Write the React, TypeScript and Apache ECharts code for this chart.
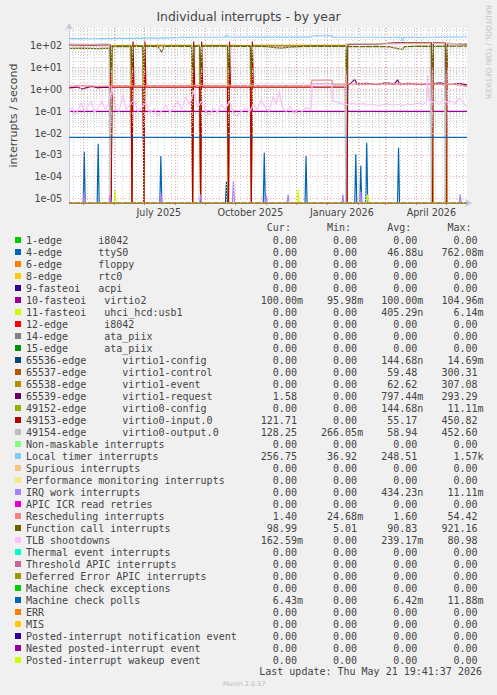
import React, { useEffect, useRef } from 'react';
import * as echarts from 'echarts';

const W = 497;
const H = 695;

const T_START = '2025-04-16 19:41:37';
const T_END = '2026-05-21 19:41:37';
const Y_MIN = 6.2e-6;
const Y_MAX = 665;

const TITLE = 'Individual interrupts - by year';
const Y_NAME = 'interrupts / second';
const LAST_UPDATE = 'Last update: Thu May 21 19:41:37 2026';
const MUNIN_VERSION = 'Munin 2.0.57';
const RRD_CREDIT = 'RRDTOOL / TOBI OETIKER';
const COLUMN_HEADERS = ['Cur:', 'Min:', 'Avg:', 'Max:'];

const X_LABEL_DATES = ['2025-07-16', '2025-10-16', '2026-01-16', '2026-04-16'];
const X_LABEL_TEXTS = ['July 2025', 'October 2025', 'January 2026', 'April 2026'];
const MONTH_STARTS = [
  '2025-05-01', '2025-06-01', '2025-07-01', '2025-08-01', '2025-09-01', '2025-10-01', '2025-11-01',
  '2025-12-01', '2026-01-01', '2026-02-01', '2026-03-01', '2026-04-01', '2026-05-01',
];
const FIRST_WEEK = '2025-04-21';

const NAMES = [
  '1-edge      i8042',
  '4-edge      ttyS0',
  '6-edge      floppy',
  '8-edge      rtc0',
  '9-fasteoi   acpi',
  '10-fasteoi   virtio2',
  '11-fasteoi   uhci_hcd:usb1',
  '12-edge      i8042',
  '14-edge      ata_piix',
  '15-edge      ata_piix',
  '65536-edge      virtio1-config',
  '65537-edge      virtio1-control',
  '65538-edge      virtio1-event',
  '65539-edge      virtio1-request',
  '49152-edge      virtio0-config',
  '49153-edge      virtio0-input.0',
  '49154-edge      virtio0-output.0',
  'Non-maskable interrupts',
  'Local timer interrupts',
  'Spurious interrupts',
  'Performance monitoring interrupts',
  'IRQ work interrupts',
  'APIC ICR read retries',
  'Rescheduling interrupts',
  'Function call interrupts',
  'TLB shootdowns',
  'Thermal event interrupts',
  'Threshold APIC interrupts',
  'Deferred Error APIC interrupts',
  'Machine check exceptions',
  'Machine check polls',
  'ERR',
  'MIS',
  'Posted-interrupt notification event',
  'Nested posted-interrupt event',
  'Posted-interrupt wakeup event',
];

const COLORS = [
  '#00CC00', '#0066B3', '#FF8000', '#FFCC00', '#330099', '#990099', '#CCFF00', '#FF0000', '#808080',
  '#008F00', '#00487D', '#B35A00', '#B38F00', '#6B006B', '#8FB300', '#B30000', '#BEBEBE', '#80FF80',
  '#80C9FF', '#FFC080', '#FFE680', '#AA80FF', '#EE00CC', '#FF8080', '#666600', '#FFBFFF', '#00FFCC',
  '#CC6699', '#999900', '#00CC00', '#0066B3', '#FF8000', '#FFCC00', '#330099', '#990099', '#CCFF00',
];

const CUR = [0, 0, 0, 0, 0, 0.1, 0, 0, 0, 0, 0, 0, 0, 1.58, 0, 121.71, 128.25, 0, 256.75, 0, 0, 0, 0, 1.4, 98.99, 0.16259, 0, 0, 0, 0, 0.00643, 0, 0, 0, 0, 0];
const MIN_V = [0, 0, 0, 0, 0, 0.09598, 0, 0, 0, 0, 0, 0, 0, 0, 0, 0, 0.26605, 0, 36.92, 0, 0, 0, 0, 0.02468, 5.01, 0, 0, 0, 0, 0, 0, 0, 0, 0, 0, 0];
const AVG_V = [0, 46.88e-6, 0, 0, 0, 0.1, 405.29e-9, 0, 0, 0, 144.68e-9, 59.48, 62.62, 0.79744, 144.68e-9, 55.17, 58.94, 0, 248.51, 0, 0, 434.23e-9, 0, 1.6, 90.83, 0.23917, 0, 0, 0, 0, 0.00642, 0, 0, 0, 0, 0];
const MAX_V = [0, 0.76208, 0, 0, 0, 0.10496, 0.00614, 0, 0, 0, 0.01469, 300.31, 307.08, 293.29, 0.01111, 450.82, 452.6, 0, 1570, 0, 0, 0.01111, 0, 54.42, 921.16, 80.98, 0, 0, 0, 0, 0.01188, 0, 0, 0, 0, 0];

// spikes (date, value) on a zero baseline
const TTYS0_SPIKES: [string, number][] = [
  ['2025-05-02', 1.4e-3], ['2025-05-16', 3.2e-3], ['2025-07-18', 8.9e-4], ['2025-10-30', 1.26e-3],
  ['2025-12-11', 8.9e-4], ['2026-01-30', 1.07e-3], ['2026-02-04', 3.2e-4], ['2026-02-10', 3.6e-3],
  ['2026-03-14', 2.1e-3],
];
const USB1_SPIKES: [string, number][] = [['2025-06-02', 2.6e-5], ['2025-12-03', 2.5e-5], ['2026-02-11', 1.5e-5]];
const VIRTIO1_CONFIG_SPIKES: [string, number][] = [['2025-09-22', 6e-5]];
const IRQ_WORK_SPIKES: [string, number][] = [
  ['2025-05-02', 1.8e-5], ['2025-05-28', 1.5e-5], ['2025-07-18', 1.8e-5], ['2025-08-27', 1.5e-5],
  ['2025-09-29', 6.4e-5], ['2025-11-01', 1.4e-5], ['2025-11-23', 1.5e-5], ['2026-01-17', 1.5e-5],
  ['2026-02-04', 2e-5], ['2026-05-15', 1.5e-5],
];

const VIRTIO2: [string, number][] = [[T_START, 0.1], ['2025-09-01', 0.0998], [T_END, 0.1]];
const MACHINE_CHECK_POLLS: [string, number][] = [[T_START, 6.42e-3], [T_END, 6.43e-3]];

const VIRTIO1_CONTROL: [string, number][] = [
  [T_START, 0], ['2025-05-29', 0], ['2025-05-30', 98], ['2025-06-18', 100], ['2025-06-19', 0], ['2025-06-20', 100],
  ['2025-06-30', 100], ['2025-07-01', 0], ['2025-07-02', 100], ['2025-08-18', 100], ['2025-08-19', 0],
  ['2025-08-20', 100], ['2025-08-26', 100], ['2025-08-27', 0], ['2025-08-28', 100], ['2025-09-23', 100],
  ['2025-09-24', 0], ['2025-09-25', 100], ['2025-10-16', 100], ['2025-10-17', 0], ['2025-10-18', 100],
  ['2026-01-20', 100], ['2026-01-21', 0], [T_END, 0],
];
const VIRTIO1_EVENT: [string, number][] = [
  [T_START, 0], ['2025-05-29', 0], ['2025-05-30', 104], ['2025-06-18', 106], ['2025-06-19', 0], ['2025-06-20', 105],
  ['2025-06-30', 104], ['2025-07-01', 0], ['2025-07-02', 106], ['2025-08-18', 105], ['2025-08-19', 0],
  ['2025-08-20', 104], ['2025-08-26', 106], ['2025-08-27', 0], ['2025-08-28', 105], ['2025-09-23', 107],
  ['2025-09-24', 0], ['2025-09-25', 105], ['2025-10-16', 104], ['2025-10-17', 0], ['2025-10-18', 106],
  ['2025-12-01', 105], ['2026-01-20', 106], ['2026-01-21', 0], ['2026-04-16', 0], ['2026-04-17', 110],
  ['2026-04-18', 0], ['2026-04-30', 0], ['2026-05-01', 110], ['2026-05-02', 0], [T_END, 0],
];
const VIRTIO1_REQUEST: [string, number][] = [
  [T_START, 1.2], ['2025-04-25', 1.3], ['2025-04-30', 1.05], ['2025-05-05', 1.25], ['2025-05-10', 1.4],
  ['2025-05-15', 1.2], ['2025-05-22', 1.3], ['2025-05-28', 1.25], ['2025-05-29', 0], ['2026-01-21', 0],
  ['2026-01-22', 1.7], ['2026-01-25', 1.9], ['2026-01-29', 3.0], ['2026-01-31', 1.8], ['2026-02-10', 1.9],
  ['2026-02-20', 1.7], ['2026-03-01', 2.0], ['2026-03-10', 1.8], ['2026-03-13', 2.8], ['2026-03-15', 1.8],
  ['2026-03-25', 1.9], ['2026-04-05', 1.7], ['2026-04-16', 1.8], ['2026-04-25', 2.0], ['2026-05-05', 1.7],
  ['2026-05-15', 1.9], [T_END, 1.58],
];
const VIRTIO0_INPUT: [string, number][] = [
  [T_START, 112], ['2025-05-10', 110], ['2025-05-28', 115], ['2025-05-29', 0], ['2025-05-30', 1.3],
  ['2025-06-18', 1.3], ['2025-06-19', 0], ['2025-06-20', 160], ['2025-06-21', 1.3],
  ['2025-06-30', 1.3], ['2025-07-01', 0], ['2025-07-02', 160], ['2025-07-03', 1.3],
  ['2025-08-18', 1.3], ['2025-08-19', 0], ['2025-08-20', 160], ['2025-08-21', 1.3],
  ['2025-08-26', 1.3], ['2025-08-27', 0], ['2025-08-28', 160], ['2025-08-29', 1.3],
  ['2025-09-23', 1.3], ['2025-09-24', 0], ['2025-09-25', 160], ['2025-09-26', 1.3],
  ['2025-10-16', 1.3], ['2025-10-17', 0], ['2025-10-18', 160], ['2025-10-19', 1.3],
  ['2026-01-20', 1.3], ['2026-01-21', 0], ['2026-01-22', 118], ['2026-02-20', 120], ['2026-03-10', 138],
  ['2026-04-16', 140], ['2026-04-17', 0], ['2026-04-18', 140], ['2026-04-30', 135], ['2026-05-01', 0],
  ['2026-05-02', 130], [T_END, 121.71],
];
const VIRTIO0_OUTPUT: [string, number][] = [
  [T_START, 122], ['2025-05-10', 118], ['2025-05-27', 125], ['2025-05-28', 0], ['2025-05-29', 1.5],
  ['2025-07-10', 1.5], ['2025-09-01', 1.55], ['2025-12-16', 1.55], ['2025-12-17', 1.85], ['2026-01-06', 1.85],
  ['2026-01-07', 1.6], ['2026-01-19', 1.6], ['2026-01-20', 0], ['2026-01-21', 126], ['2026-03-01', 124],
  ['2026-04-15', 130], ['2026-04-16', 0], ['2026-04-17', 130], ['2026-04-29', 128], ['2026-04-30', 0],
  ['2026-05-01', 128], [T_END, 128.25],
];
const LOCAL_TIMER: [string, number][] = [
  [T_START, 215], ['2025-04-28', 218], ['2025-05-10', 214], ['2025-05-22', 218], ['2025-06-05', 220],
  ['2025-06-20', 223], ['2025-07-05', 226], ['2025-07-20', 230], ['2025-08-01', 238], ['2025-08-10', 247],
  ['2025-09-01', 250], ['2025-09-20', 250], ['2025-09-22', 315], ['2025-09-24', 250], ['2025-10-20', 251],
  ['2025-11-20', 252], ['2025-12-16', 252], ['2025-12-17', 290], ['2026-01-06', 290], ['2026-01-07', 252],
  ['2026-02-15', 250], ['2026-03-17', 248], ['2026-03-18', 158], ['2026-03-19', 248], ['2026-04-20', 252],
  [T_END, 256.75],
];
const RESCHEDULING: [string, number][] = [
  [T_START, 1.45], ['2025-05-01', 1.5], ['2025-05-15', 1.4], ['2025-06-10', 1.5], ['2025-07-15', 1.5],
  ['2025-09-01', 1.5], ['2025-10-15', 1.45], ['2025-11-20', 1.45], ['2025-12-16', 1.45], ['2025-12-17', 2.7],
  ['2026-01-06', 2.7], ['2026-01-07', 1.8], ['2026-02-15', 1.75], ['2026-03-15', 1.8], ['2026-04-15', 1.75],
  ['2026-05-10', 1.7], [T_END, 1.4],
];
const FUNCTION_CALL: [string, number][] = [
  [T_START, 78], ['2025-05-01', 80], ['2025-05-15', 76], ['2025-05-28', 79], ['2025-05-29', 5], ['2025-05-30', 92],
  ['2025-06-10', 95], ['2025-06-18', 93], ['2025-06-19', 5], ['2025-06-20', 95], ['2025-06-30', 96],
  ['2025-07-01', 5], ['2025-07-02', 97], ['2025-07-15', 95], ['2025-07-19', 50], ['2025-07-21', 96],
  ['2025-08-05', 98], ['2025-08-18', 96], ['2025-08-19', 5], ['2025-08-20', 97], ['2025-08-26', 95],
  ['2025-08-27', 5], ['2025-08-28', 96], ['2025-09-10', 100], ['2025-09-23', 97], ['2025-09-24', 5],
  ['2025-09-25', 98], ['2025-10-05', 95], ['2025-10-16', 97], ['2025-10-17', 5], ['2025-10-18', 98],
  ['2025-11-01', 92], ['2025-11-15', 80], ['2025-11-25', 88], ['2025-12-10', 96], ['2025-12-25', 99],
  ['2026-01-10', 95], ['2026-01-20', 97], ['2026-01-21', 5], ['2026-01-22', 96], ['2026-02-05', 92],
  ['2026-02-20', 96], ['2026-03-05', 90], ['2026-03-18', 68], ['2026-03-20', 92], ['2026-04-05', 97],
  ['2026-04-16', 95], ['2026-04-17', 5], ['2026-04-18', 96], ['2026-04-30', 98], ['2026-05-01', 5],
  ['2026-05-02', 97], [T_END, 98.99],
];
const TLB_SHOOTDOWNS: [string, number][] = [
  [T_START, 0.09], ['2025-04-20', 0.15], ['2025-04-23', 0.07], ['2025-04-26', 0.12], ['2025-04-29', 0.25],
  ['2025-05-02', 0.1], ['2025-05-06', 0.18], ['2025-05-09', 0.3], ['2025-05-12', 0.09], ['2025-05-16', 0.14],
  ['2025-05-20', 0.3], ['2025-05-23', 0.12], ['2025-05-26', 0.2], ['2025-05-30', 1.2], ['2025-06-02', 0.15],
  ['2025-06-06', 0.1], ['2025-06-10', 0.55], ['2025-06-13', 0.12], ['2025-06-17', 0.2], ['2025-06-21', 0.35],
  ['2025-06-25', 0.1], ['2025-06-29', 0.16], ['2025-07-03', 0.25], ['2025-07-07', 0.08], ['2025-07-11', 0.13],
  ['2025-07-15', 0.06], ['2025-07-19', 0.11], ['2025-07-23', 0.2], ['2025-07-27', 0.09], ['2025-07-31', 0.15],
  ['2025-08-04', 0.3], ['2025-08-08', 0.12], ['2025-08-12', 0.45], ['2025-08-16', 0.2], ['2025-08-20', 0.9],
  ['2025-08-24', 0.15], ['2025-08-28', 0.3], ['2025-09-01', 0.1], ['2025-09-05', 0.07], ['2025-09-09', 0.14],
  ['2025-09-13', 0.09], ['2025-09-17', 0.2], ['2025-09-21', 0.12], ['2025-09-25', 0.3], ['2025-09-29', 0.08],
  ['2025-10-03', 0.06], ['2025-10-07', 0.1], ['2025-10-11', 0.15], ['2025-10-15', 0.09], ['2025-10-19', 0.2],
  ['2025-10-23', 0.12], ['2025-10-27', 0.35], ['2025-10-31', 0.15], ['2025-11-04', 0.1], ['2025-11-08', 0.5],
  ['2025-11-11', 0.2], ['2025-11-14', 0.8], ['2025-11-17', 0.15], ['2025-11-21', 0.1], ['2025-11-25', 0.18],
  ['2025-11-29', 0.08], ['2025-12-03', 0.12], ['2025-12-07', 0.1], ['2025-12-11', 0.15], ['2025-12-16', 0.12],
  ['2025-12-17', 1.6], ['2025-12-26', 1.7], ['2026-01-06', 1.6], ['2026-01-07', 0.3], ['2026-01-12', 0.25],
  ['2026-01-17', 0.22], ['2026-01-22', 0.2], ['2026-01-27', 0.24], ['2026-02-01', 0.2], ['2026-02-06', 0.23],
  ['2026-02-11', 0.19], ['2026-02-16', 0.21], ['2026-02-21', 0.18], ['2026-02-26', 0.2], ['2026-03-03', 0.22],
  ['2026-03-08', 0.19], ['2026-03-13', 0.21], ['2026-03-18', 0.18], ['2026-03-23', 0.22], ['2026-03-28', 0.2],
  ['2026-04-02', 0.24], ['2026-04-07', 0.21], ['2026-04-11', 0.25], ['2026-04-12', 4.5], ['2026-04-13', 0.4],
  ['2026-04-16', 0.25], ['2026-04-20', 0.3], ['2026-04-24', 0.2], ['2026-04-28', 0.35], ['2026-05-02', 0.25],
  ['2026-05-06', 0.3], ['2026-05-10', 0.22], ['2026-05-14', 0.4], ['2026-05-18', 0.25], [T_END, 0.16],
];

// ---------- helpers ----------
const toTs = (s: string): number => {
  const [d, t] = s.split(' ');
  const [y, m, dd] = d.split('-').map(Number);
  const [hh, mm, ss] = (t || '0:0:0').split(':').map(Number);
  return new Date(y, m - 1, dd, hh, mm, ss).getTime();
};
const addDays = (s: string, n: number): string => {
  const [y, m, d] = s.split('-').map(Number);
  const dt = new Date(Date.UTC(y, m - 1, d + n));
  return dt.toISOString().slice(0, 10);
};
const spikesToSeries = (sp: [string, number][]): [string, number][] => {
  const out: [string, number][] = [[T_START, 0]];
  sp.forEach(([d, v]) => {
    out.push([addDays(d, -1), 0], [d, v], [addDays(d, 1), 0]);
  });
  out.push([T_END, 0]);
  return out;
};
const ZERO: [string, number][] = [[T_START, 0], [T_END, 0]];

const SERIES_SOURCES: Record<number, [string, number][]> = {
  1: spikesToSeries(TTYS0_SPIKES),
  5: VIRTIO2,
  6: spikesToSeries(USB1_SPIKES),
  10: spikesToSeries(VIRTIO1_CONFIG_SPIKES),
  11: VIRTIO1_CONTROL,
  12: VIRTIO1_EVENT,
  13: VIRTIO1_REQUEST,
  15: VIRTIO0_INPUT,
  16: VIRTIO0_OUTPUT,
  18: LOCAL_TIMER,
  21: spikesToSeries(IRQ_WORK_SPIKES),
  23: RESCHEDULING,
  24: FUNCTION_CALL,
  25: TLB_SHOOTDOWNS,
  30: MACHINE_CHECK_POLLS,
};

const siFormat = (v: number): string => {
  if (v === 0) return '0.00'.padStart(9) + ' ';
  const prefixes: Record<number, string> = { [-3]: 'n', [-2]: 'u', [-1]: 'm', 0: ' ', 1: 'k' };
  const e = Math.floor(Math.log10(Math.abs(v)) / 3 + 1e-9);
  const n = v / Math.pow(10, 3 * e);
  return n.toFixed(2).padStart(9) + (prefixes[e] ?? ' ');
};
const nb = (s: string) => s.replace(/ /g, '\u00a0');

const App: React.FC = () => {
  const ref = useRef<HTMLDivElement>(null);

  useEffect(() => {
    if (!ref.current) return;
    const chart = echarts.init(ref.current, undefined, { renderer: 'svg' });

    const xStart = toTs(T_START);
    const xEnd = toTs(T_END);
    const floorV = (v: number) => (v > 0 ? v : Y_MIN);

    const minorY: number[] = [];
    for (let e = -6; e <= 2; e++) {
      for (let k = 2; k <= 9; k++) {
        const v = k * Math.pow(10, e);
        if (v > Y_MIN && v < Y_MAX) minorY.push(v);
      }
    }
    const weekLines: number[] = [];
    for (let t = toTs(FIRST_WEEK); t < xEnd; t += 7 * 86400000) weekLines.push(t);
    const monthTs = MONTH_STARTS.map(toTs);
    const labelTs = X_LABEL_DATES.map(toTs);

    const minorStyle = { color: '#d0d0d0', type: [1, 2] as any, width: 1 };
    const majorStyle = { color: 'rgba(235,90,90,0.55)', type: [1, 2] as any, width: 1 };

    const gridSeries: any = {
      type: 'line',
      name: '__grid',
      data: [],
      silent: true,
      z: 1,
      markLine: {
        silent: true,
        animation: false,
        symbol: ['none', 'none'],
        label: { show: false },
        emphasis: { disabled: true },
        data: [
          ...minorY.map((v) => ({ yAxis: v, lineStyle: minorStyle })),
          ...weekLines.map((t) => ({ xAxis: t, lineStyle: minorStyle })),
          ...monthTs.map((t) => ({ xAxis: t, lineStyle: majorStyle })),
        ],
      },
    };

    const series: any[] = [gridSeries];
    NAMES.forEach((name, i) => {
      const src = SERIES_SOURCES[i] ?? ZERO;
      series.push({
        type: 'line',
        name,
        data: src.map(([d, v]) => [toTs(d), floorV(v)]),
        showSymbol: false,
        symbol: 'none',
        silent: true,
        z: 2,
        color: COLORS[i],
        itemStyle: { color: COLORS[i] },
        lineStyle: { color: COLORS[i], width: 1.2 },
        clip: true,
      });
    });

    const expLabel = (v: number) => {
      const e = Math.round(Math.log10(v));
      return '1e' + (e < 0 ? '-' : '+') + String(Math.abs(e)).padStart(2, '0');
    };

    const headerStr = ' '.repeat(40) + COLUMN_HEADERS.join(' '.repeat(6));

    const option: any = {
      animation: false,
      backgroundColor: '#F0F0F0',
      textStyle: { fontFamily: 'DejaVu Sans' },
      title: {
        text: TITLE,
        left: 'center',
        top: 10,
        padding: 0,
        textStyle: { fontFamily: 'DejaVu Sans', fontSize: 12.4, fontWeight: 'normal', color: '#444' },
      },
      grid: {
        left: 67,
        right: W - 467,
        top: 28,
        bottom: H - 203,
        show: true,
        backgroundColor: '#FFFFFF',
        borderWidth: 0,
        containLabel: false,
      },
      xAxis: {
        type: 'value',
        min: xStart,
        max: xEnd,
        axisLine: {
          show: true,
          onZero: false,
          lineStyle: { color: '#C8C8E8', width: 1 },
          symbol: ['none', 'arrow'],
          symbolSize: [6, 7],
          symbolOffset: [0, 5],
        },
        axisTick: { show: true, customValues: monthTs, length: 2, lineStyle: { color: '#E07070' } },
        axisLabel: {
          customValues: labelTs,
          formatter: (v: number) => {
            let best = 0;
            labelTs.forEach((t, i) => {
              if (Math.abs(t - v) < Math.abs(labelTs[best] - v)) best = i;
            });
            return X_LABEL_TEXTS[best];
          },
          fontFamily: 'DejaVu Sans',
          fontSize: 9.6,
          color: '#444',
          margin: 4,
          hideOverlap: false,
          showMinLabel: true,
          showMaxLabel: true,
        },
        splitLine: { show: false },
      },
      yAxis: {
        type: 'log',
        logBase: 10,
        min: Y_MIN,
        max: Y_MAX,
        name: Y_NAME,
        nameLocation: 'middle',
        nameRotate: 90,
        nameGap: 50,
        nameTextStyle: { fontFamily: 'DejaVu Sans', fontSize: 11, color: '#444' },
        axisLine: {
          show: true,
          lineStyle: { color: '#C8C8E8', width: 1 },
          symbol: ['none', 'arrow'],
          symbolSize: [6, 7],
          symbolOffset: [0, 5],
        },
        axisTick: { show: false },
        axisLabel: {
          formatter: expLabel,
          fontFamily: 'DejaVu Sans',
          fontSize: 9.6,
          color: '#444',
          margin: 7,
          showMinLabel: false,
          showMaxLabel: false,
        },
        splitLine: { show: true, showMinLine: false, showMaxLine: false, lineStyle: majorStyle },
      },
      legend: {
        orient: 'vertical',
        left: 15,
        top: 234,
        padding: 0,
        itemGap: 0,
        itemWidth: 6,
        itemHeight: 6,
        icon: 'rect',
        selectedMode: false,
        data: NAMES,
        textStyle: { fontFamily: 'DejaVu Sans Mono', fontSize: 10, color: '#444', lineHeight: 12 },
        formatter: (name: string) => {
          const i = NAMES.indexOf(name);
          return nb(name.padEnd(36) + siFormat(CUR[i]) + siFormat(MIN_V[i]) + siFormat(AVG_V[i]) + siFormat(MAX_V[i]));
        },
      },
      graphic: [
        {
          type: 'text',
          x: 26,
          y: 227,
          silent: true,
          style: { text: nb(headerStr), fontFamily: 'DejaVu Sans Mono', fontSize: 10, fill: '#444', verticalAlign: 'middle' },
        },
        {
          type: 'text',
          x: 482,
          y: 671.5,
          silent: true,
          style: { text: nb(LAST_UPDATE), fontFamily: 'DejaVu Sans Mono', fontSize: 10, fill: '#444', align: 'right', verticalAlign: 'middle' },
        },
        {
          type: 'text',
          x: 223,
          y: 684,
          silent: true,
          style: { text: MUNIN_VERSION, fontFamily: 'DejaVu Sans', fontSize: 6.5, fill: '#BBBBBB', verticalAlign: 'middle' },
        },
        {
          type: 'text',
          x: 488.5,
          y: 5,
          rotation: -Math.PI / 2,
          silent: true,
          style: { text: RRD_CREDIT, fontFamily: 'DejaVu Sans', fontSize: 7.3, fill: '#C4C4C4', align: 'left', verticalAlign: 'middle' },
        },
      ],
      series,
    };

    chart.setOption(option);
    return () => chart.dispose();
  }, []);

  return (
    <div
      ref={ref}
      style={{ position: 'fixed', left: 0, top: 0, width: W, height: H, background: '#F0F0F0' }}
    />
  );
};

export default App;
